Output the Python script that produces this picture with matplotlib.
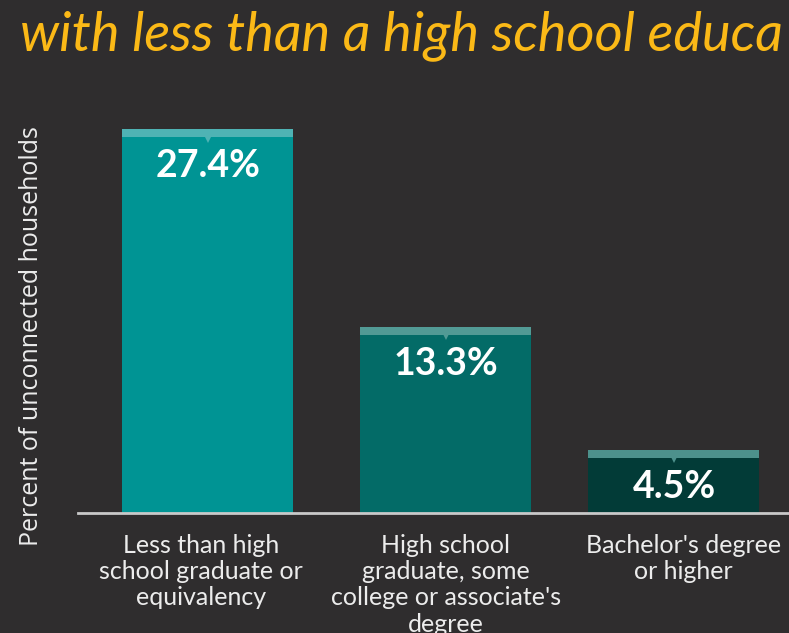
import matplotlib
matplotlib.use("Agg")
import matplotlib.pyplot as plt
import numpy as np

# ---- data ----
categories = [
    "Less than high\nschool graduate or\nequivalency",
    "High school\ngraduate, some\ncollege or associate's\ndegree",
    "Bachelor's degree\nor higher",
]
values = [27.4, 13.3, 4.5]
value_labels = ["27.4%", "13.3%", "4.5%"]
title_text = "with less than a high school educa"
ylabel_text = "Percent of unconnected households"

# ---- layout / styles ----
positions = [0, 1.02, 2]
tick_positions = [-0.03, 1.02, 2.04]
bg = "#2f2d2e"
bar_colors = ["#009494", "#036b67", "#023b37"]
cap_colors = ["#4fb3b4", "#529a95", "#4d918c"]
title_color = "#fbb917"
text_color = "#ececec"

W, H, DPI = 789, 633, 100
fig = plt.figure(figsize=(W / DPI, H / DPI), dpi=DPI, facecolor=bg)

ax_left, ax_right = 78, 789
ax_base, ax_top = 513, 100
ax = fig.add_axes([ax_left / W, (H - ax_base) / H,
                   (ax_right - ax_left) / W, (ax_base - ax_top) / H])
ax.set_facecolor(bg)

x = np.array(positions)
px_per_unit_x = 233.0
ax.set_xlim(0 - (208 - ax_left) / px_per_unit_x, 2 + (ax_right - 674) / px_per_unit_x)
px_per_unit_y = 14.0
ax.set_ylim(0, (ax_base - ax_top) / px_per_unit_y)

bar_w = 171 / px_per_unit_x
cap_h = 8 / px_per_unit_y

ax.bar(x, values, width=bar_w, color=bar_colors, zorder=2)
caps_bottom = [v - cap_h for v in values]
ax.bar(x, [cap_h] * len(values), bottom=caps_bottom, width=bar_w,
       color=cap_colors, zorder=3)
for xi, cb, cc in zip(x, caps_bottom, cap_colors):
    ax.plot([xi], [cb - 1.2 / px_per_unit_y], marker="v", markersize=6,
            color=cc, markeredgewidth=0, zorder=4)

for xi, v, lab in zip(x, values, value_labels):
    ax.annotate(lab, (xi, v), xytext=(0, -37), textcoords="offset pixels",
                ha="center", va="center", fontsize=27, fontweight="bold",
                family="Lato", color="white", zorder=5)

for side in ["left", "right", "top"]:
    ax.spines[side].set_visible(False)
ax.spines["bottom"].set_color("#c9c9c9")
ax.spines["bottom"].set_linewidth(2)
ax.set_yticks([])
ax.set_xticks(tick_positions)
ax.set_xticklabels(categories, fontsize=18, family="Lato", color=text_color,
                   linespacing=1.17)
ax.tick_params(axis="x", length=0, pad=15)

fig.text(32 / W, 1 - 336 / H, ylabel_text, rotation=90, ha="center", va="center",
         fontsize=18, family="Open Sans", color=text_color)

fig.text(20 / W, 1 - 50 / H, title_text, ha="left", va="baseline",
         fontsize=39, family="Lato", style="italic", color=title_color)

fig.savefig("out.png", dpi=DPI, facecolor=bg)
